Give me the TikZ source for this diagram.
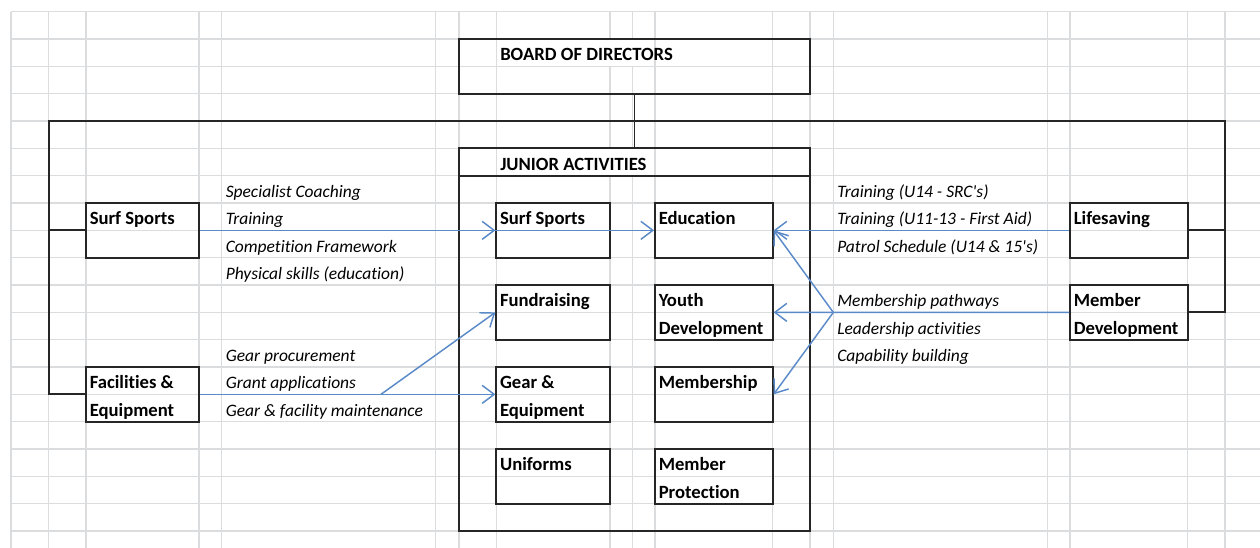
\documentclass[tikz,border=0pt]{standalone}
\usepackage{fontspec}
\setmainfont{Carlito}[Ligatures=NoCommon]
\usetikzlibrary{arrows.meta,fit}
\definecolor{gridgray}{RGB}{218,220,222}
\definecolor{flowblue}{RGB}{90,138,200}
\definecolor{boxline}{RGB}{38,38,38}
\tikzset{
	gridline/.style={draw=gridgray, line width=0.9pt},
	orgbox/.style={draw=boxline, line width=1.4pt, inner sep=0pt},
	orglink/.style={draw=boxline, line width=1.4pt},
	boxtext/.style={anchor=base west, inner sep=0pt, font=\fontsize{14}{17}\selectfont\bfseries},
	dutytext/.style={anchor=base west, inner sep=0pt, font=\fontsize{13.1}{16}\selectfont\itshape},
	flowline/.style={draw=flowblue, line width=1.1pt},
	flow/.style={flowline, -{Straight Barb[length=9pt,width=13.5pt]}},
}

\begin{document}
\begin{tikzpicture}[x=0.75pt, y=-0.75pt]
			%%%%% SHEET %%%%%
			\useasboundingbox (0,0) rectangle (1260,548);
			
			\foreach \gx in {11,48.7,86,199,221.7,435.7,459,496.3,610,632.7,655,772.7,810,833.3,1047.3,1070,1187.7,1225}
				\draw[gridline] (\gx,11.7) -- (\gx,548);
			\foreach \k in {0,...,19}
				\draw[gridline] (11,{11.7+27.33*\k}) -- (1260,{11.7+27.33*\k});
			
			% overflow of the two headings hides the cell lines
			\fill[white] (497.3,39.8) rectangle (654,65.6);
			\fill[white] (497.3,149.2) rectangle (654,174.9);
			
			%%%%% BOXES %%%%%
			
			\node[orgbox, fit={(459,39) (810,93.7)}] (board) {};
			\node[orgbox, fit={(459,148.4) (810,531)}] (junior) {};
			\draw[orglink] (459,175.7) -- (810,175.7);
			
			\node[orgbox, fit={(86,203) (199,257.7)}] (surf) {};
			\node[orgbox, fit={(86,367) (199,421.7)}] (facil) {};
			
			\node[orgbox, fit={(496.3,203) (610,257.7)}] (jsurf) {};
			\node[orgbox, fit={(655,203) (772.7,257.7)}] (educ) {};
			\node[orgbox, fit={(496.3,285) (610,339.7)}] (fundr) {};
			\node[orgbox, fit={(655,285) (772.7,339.7)}] (youth) {};
			\node[orgbox, fit={(496.3,367) (610,421.7)}] (gear) {};
			\node[orgbox, fit={(655,367) (772.7,421.7)}] (mship) {};
			\node[orgbox, fit={(496.3,449) (610,503.6)}] (unif) {};
			\node[orgbox, fit={(655,449) (772.7,503.6)}] (mprot) {};
			
			\node[orgbox, fit={(1070,203) (1187.7,257.7)}] (lifesv) {};
			\node[orgbox, fit={(1070,285) (1187.7,339.7)}] (memdev) {};
			
			%%%%% BOX TEXT %%%%%
			
			\node[boxtext] (board-t) at (500,60.9) {BOARD OF DIRECTORS};
			\node[boxtext] (junior-t) at (500,170.2) {JUNIOR ACTIVITIES};
			\node[boxtext] (surf-t) at (89.5,224.8) {Surf Sports};
			\node[boxtext] (facil-t1) at (89.5,388.8) {Facilities \&};
			\node[boxtext] (facil-t2) at (89.5,416.2) {Equipment};
			\node[boxtext] (jsurf-t) at (499.8,224.8) {Surf Sports};
			\node[boxtext] (educ-t) at (658.5,224.8) {Education};
			\node[boxtext] (fundr-t) at (499.8,306.9) {Fundraising};
			\node[boxtext] (youth-t1) at (658.5,306.9) {Youth};
			\node[boxtext] (youth-t2) at (658.5,334.2) {Development};
			\node[boxtext] (gear-t1) at (499.8,388.8) {Gear \&};
			\node[boxtext] (gear-t2) at (499.8,416.2) {Equipment};
			\node[boxtext] (mship-t) at (658.5,388.8) {Membership};
			\node[boxtext] (unif-t) at (499.8,470.8) {Uniforms};
			\node[boxtext] (mprot-t1) at (658.5,470.8) {Member};
			\node[boxtext] (mprot-t2) at (658.5,498.1) {Protection};
			\node[boxtext] (lifesv-t) at (1073.5,224.8) {Lifesaving};
			\node[boxtext] (memdev-t1) at (1073.5,306.9) {Member};
			\node[boxtext] (memdev-t2) at (1073.5,334.2) {Development};
			
			%%%%% DUTIES %%%%%
			
			\node[dutytext] (duty-a1) at (225.5,197.5) {Specialist Coaching};
			\node[dutytext] (duty-a2) at (225.5,224.8) {Training};
			\node[dutytext] (duty-a3) at (225.5,252.2) {Competition Framework};
			\node[dutytext] (duty-a4) at (225.5,279.5) {Physical skills (education)};
			\node[dutytext] (duty-b1) at (225.5,361.5) {Gear procurement};
			\node[dutytext] (duty-b2) at (225.5,388.8) {Grant applications};
			\node[dutytext] (duty-b3) at (225.5,416.2) {Gear \& facility maintenance};
			\node[dutytext] (duty-c1) at (837,197.5) {Training (U14 - SRC\textquotesingle s)};
			\node[dutytext] (duty-c2) at (837,224.8) {Training (U11-13 - First Aid)};
			\node[dutytext] (duty-c3) at (837,252.2) {Patrol Schedule (U14 \& 15\textquotesingle s)};
			\node[dutytext] (duty-d1) at (837,306.9) {Membership pathways};
			\node[dutytext] (duty-d2) at (837,334.2) {Leadership activities};
			\node[dutytext] (duty-d3) at (837,361.5) {Capability building};
			
			%%%%% LINKS %%%%%
			
			\coordinate (barL) at (48.7,121);
			\coordinate (barR) at (1225,121);
			\draw[orglink] (board.south) -- (junior.north);
			\draw[orglink] (facil.west) -| (barL) -- (barR) |- (memdev.east);
			\draw[orglink] (surf.west) -- (surf.west -| barL);
			\draw[orglink] (lifesv.east) -- (lifesv.east -| barR);
			
			\coordinate (feSplit) at (381,394.3);
			\coordinate (mdSplit) at (833.3,312.4);
			\draw[flow] (surf.east) -- (jsurf.west);
			\draw[flow] (jsurf.west) -- (educ.west);
			\draw[flow] (lifesv.west) -- (educ.east);
			\draw[flowline] (memdev.west) -- (mdSplit);
			\draw[flow] (mdSplit) -- (educ.east);
			\draw[flow] (mdSplit) -- (youth.east);
			\draw[flow] (mdSplit) -- (mship.east);
			\draw[flow] (facil.east) -- (gear.west);
			\draw[flow] (feSplit) -- (fundr.west);
			
\end{tikzpicture}
\end{document}
